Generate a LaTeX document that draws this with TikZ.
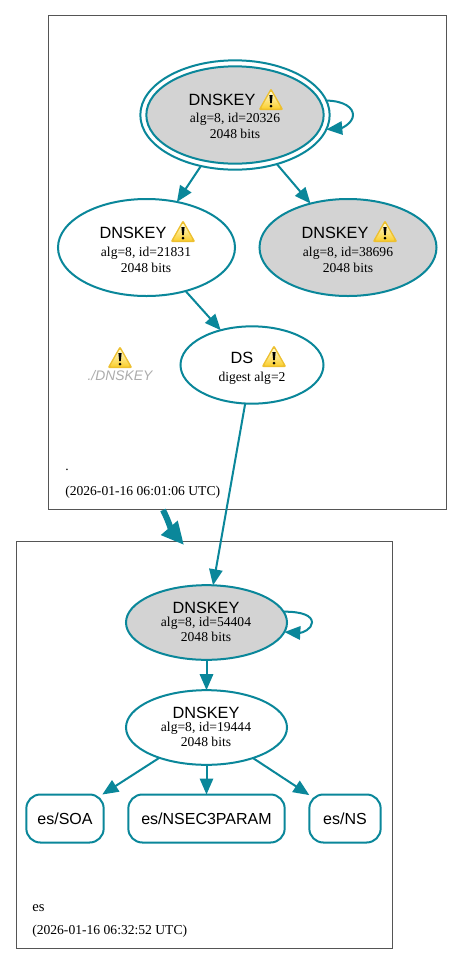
\documentclass[tikz,border=0pt]{standalone}
\usepackage{fontspec}
\setmainfont{Liberation Serif}
\newfontfamily\lsans{Liberation Sans}
\usetikzlibrary{arrows.meta,shapes.geometric,calc}
\definecolor{edgeteal}{HTML}{0A879A}
\definecolor{nodegray}{HTML}{D3D3D3}
\definecolor{clusterline}{HTML}{555555}
\definecolor{warnedge}{HTML}{EDC030}
\definecolor{warntop}{HTML}{FFFCD8}
\definecolor{warnbot}{HTML}{FBD030}
\tikzset{
  x=0.75pt,y=-0.75pt,
  cluster/.style={draw=clusterline,line width=0.75pt,rectangle,inner sep=0pt,outer sep=0pt},
  zone/.style={draw=edgeteal,line width=1.5pt,ellipse,inner sep=0pt,outer sep=0pt},
  filled/.style={zone,fill=nodegray},
  rrset/.style={draw=edgeteal,line width=1.5pt,rectangle,rounded corners=10.5pt,inner sep=0pt,outer sep=0pt,
    minimum height=36pt,font=\lsans\fontsize{12}{14}\selectfont},
  edge/.style={draw=edgeteal,line width=1.5pt,-{Triangle[length=12pt,width=10pt]}},
  big/.style={font=\lsans\fontsize{12.2}{14}\selectfont,inner sep=0pt},
  small/.style={font=\fontsize{10.2}{12}\selectfont,inner sep=0pt},
  ghost/.style={font=\lsans\itshape\fontsize{10.4}{12}\selectfont,text=gray!65,inner sep=0pt},
  warn/.pic={
    \fill[warnedge,rounded corners=1.5pt] (0,-12) -- (12.5,10) -- (-12.5,10) -- cycle;
    \shade[top color=warntop,bottom color=warnbot,rounded corners=1pt] (0,-9) -- (10,8.5) -- (-10,8.5) -- cycle;
    \fill[black] (-1.6,-5) -- (1.6,-5) -- (0.8,3) -- (-0.8,3) -- cycle;
    \fill[black] (0,6) circle[radius=1.5];
  },
}
\begin{document}
\begin{tikzpicture}
\path[use as bounding box,fill=white] (0,0) rectangle (463,965);
% clusters
\node[cluster,minimum width=298.5pt,minimum height=370.5pt] (top) at (247,262.5) {};
\node[cluster,minimum width=282pt,minimum height=305.25pt] (bottom) at (204,744.5) {};
% root zone
\node[zone,minimum width=142pt,minimum height=82pt] (kskouter) at (235,115) {};
\node[filled,minimum width=133pt,minimum height=73pt] (ksk) at (235,115) {};
\node[big] (ksktitle) at (222,100) {DNSKEY};
\pic at (271,100) {warn};
\node[small] (kskalg) at (235,119) {alg=8, id=20326};
\node[small] (kskbits) at (235,134) {2048 bits};
\node[zone,minimum width=132.75pt,minimum height=72.75pt] (zsk) at (146.5,247.5) {};
\node[big] (zsktitle) at (133,233) {DNSKEY};
\pic at (183,232) {warn};
\node[small] (zskalg) at (146,253) {alg=8, id=21831};
\node[small] (zskbits) at (146,268) {2048 bits};
\node[filled,minimum width=132.75pt,minimum height=72.75pt] (sep) at (348,247.5) {};
\node[big] (septitle) at (335,233) {DNSKEY};
\pic at (385,232) {warn};
\node[small] (sepalg) at (348,253) {alg=8, id=38696};
\node[small] (sepbits) at (348,268) {2048 bits};
\node[zone,minimum width=107.25pt,minimum height=58pt] (ds) at (252,365) {};
\node[big] (dstitle) at (242,358) {DS};
\pic at (274,357) {warn};
\node[small] (dsalg) at (252,378) {digest alg=2};
\pic at (120,358) {warn};
\node[ghost] (ghostlabel) at (120,376) {./DNSKEY};
\node[small,anchor=west] (rootname) at (65,470) {.};
\node[small,anchor=west] (roottime) at (65,492) {(2026-01-16 06:01:06 UTC)};
% es zone
\node[filled,minimum width=120.75pt,minimum height=56pt] (esksk) at (206.5,622.5) {};
\node[big] (esksktitle) at (206,608) {DNSKEY};
\node[small] (eskskalg) at (206,623) {alg=8, id=54404};
\node[small] (eskskbits) at (206,637) {2048 bits};
\node[zone,minimum width=120.75pt,minimum height=56pt] (eszsk) at (206.5,727.5) {};
\node[big] (eszsktitle) at (206,713) {DNSKEY};
\node[small] (eszskalg) at (206,728) {alg=8, id=19444};
\node[small] (eszskbits) at (206,742) {2048 bits};
\node[rrset,minimum width=58pt] (soa) at (65,818.5) {es/SOA};
\node[rrset,minimum width=117.25pt] (nsec) at (206.5,818.5) {es/NSEC3PARAM};
\node[rrset,minimum width=53.5pt] (ns) at (345,818.5) {es/NS};
\node[small,anchor=west,font=\fontsize{11}{13}\selectfont] (esname) at (32,908) {es};
\node[small,anchor=west] (estime) at (32,931) {(2026-01-16 06:32:52 UTC)};
% connectors
\draw[edge] (kskouter) -- (zsk);
\draw[edge] (kskouter) -- (sep);
\draw[edge] (zsk) -- (ds);
\draw[edge] (ds) -- (esksk);
\draw[edge] (esksk) -- (eszsk);
\draw[edge] (eszsk) -- (soa);
\draw[edge] (eszsk) -- (nsec);
\draw[edge] (eszsk) -- (ns);
\coordinate (kskloop) at (353,115);
\coordinate (esloop) at (312,622.5);
\draw[edge] (kskouter.9.5) .. controls (345,101) and (353,108) .. (kskloop) .. controls (353,123) and (342,128) .. (kskouter.-9.5);
\draw[edge] (esksk.8.5) .. controls (303,611.5) and (312,616) .. (esloop) .. controls (312,629) and (302,633) .. (esksk.-7);
\coordinate (bigstart) at (163,510);
\coordinate (bigend) at (184,545);
\draw[draw=edgeteal,line width=4.5pt,-{Triangle[length=17pt,width=15.4pt]}] (bigstart) .. controls (168,520) and (172,531) .. (bigend);
\end{tikzpicture}
\end{document}
